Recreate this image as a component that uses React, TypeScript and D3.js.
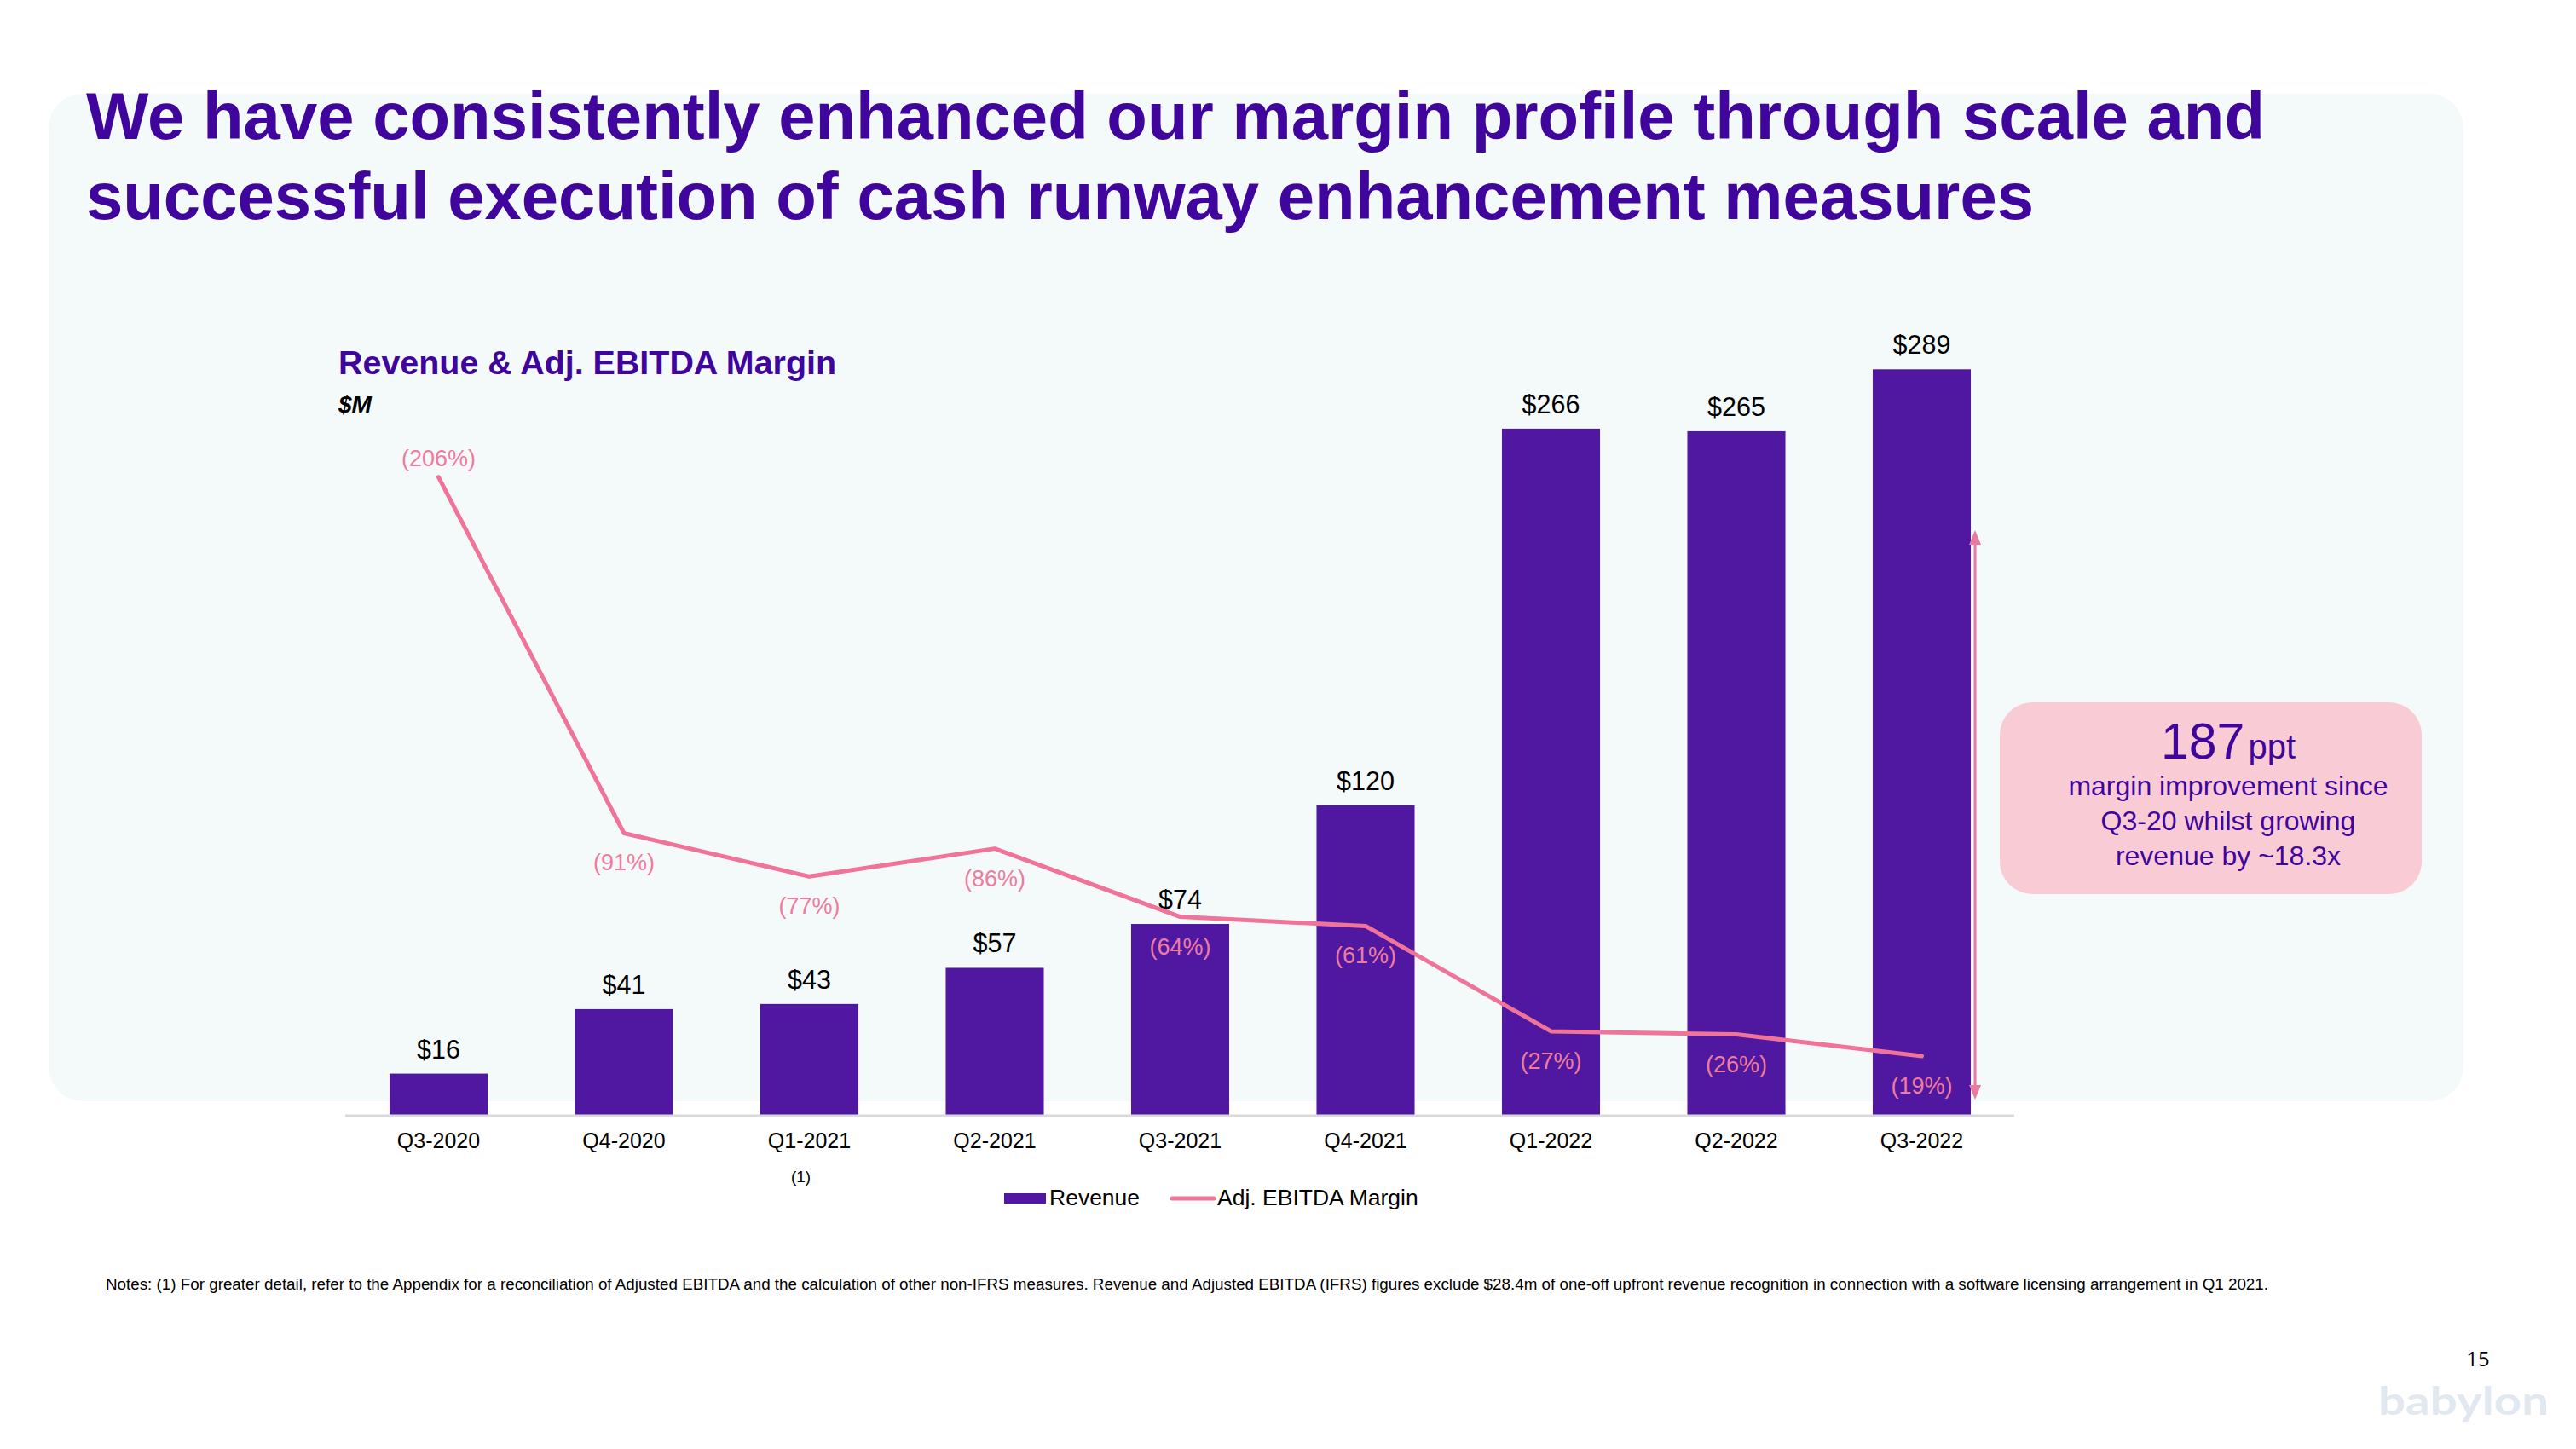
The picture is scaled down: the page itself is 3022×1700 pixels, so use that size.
import React from 'react';
import * as d3 from 'd3';

const categories = ['Q3-2020', 'Q4-2020', 'Q1-2021', 'Q2-2021', 'Q3-2021', 'Q4-2021', 'Q1-2022', 'Q2-2022', 'Q3-2022'];
const revenue = [16, 41, 43, 57, 74, 120, 266, 265, 289];
const margin = [206, 91, 77, 86, 64, 61, 27, 26, 19];
const footnoteCategory = 'Q1-2021';

const titleLines = [
  'We have consistently enhanced our margin profile through scale and',
  'successful execution of cash runway enhancement measures',
];
const chartTitle = 'Revenue & Adj. EBITDA Margin';
const unitLabel = '$M';
const legendItems = ['Revenue', 'Adj. EBITDA Margin'];
const calloutBig = '187';
const calloutUnit = 'ppt';
const calloutLines = ['margin improvement since', 'Q3-20 whilst growing', 'revenue by ~18.3x'];
const notes =
  'Notes: (1) For greater detail, refer to the Appendix for a reconciliation of Adjusted EBITDA and the calculation of other non-IFRS measures. Revenue and Adjusted EBITDA (IFRS) figures exclude $28.4m of one-off upfront revenue recognition in connection with a software licensing arrangement in Q1 2021.';

const PURPLE = '#40059c';
const BAR = '#5018a0';
const PINK = '#f0739a';
const PINK_TXT = '#ef7c9d';
const FONT = '"Liberation Sans", Arial, sans-serif';

export default function App() {
  const W = 3022;
  const H = 1700;
  const baseY = 1308;
  const topY = 400;

  const x = d3
    .scaleBand<string>()
    .domain(categories)
    .range([405.75, 2363.25])
    .paddingInner(0.471)
    .paddingOuter(0.2355);
  const yBar = d3.scaleLinear().domain([0, 300]).range([baseY, topY]);
  const yLine = d3.scaleLinear().domain([0, 250]).range([baseY, topY]);
  const bw = x.bandwidth();
  const cx = (c: string) => (x(c) as number) + bw / 2;

  const lineGen = d3
    .line<number>()
    .x((_, i) => cx(categories[i]))
    .y((d) => yLine(d));

  const lastC = categories[categories.length - 1];
  const arrowX = (x(lastC) as number) + bw + 5;
  const arrowTop = 622;
  const arrowBot = 1290;

  return (
    <svg
      width={W}
      height={H}
      viewBox={`0 0 ${W} ${H}`}
      style={{ position: 'absolute', left: 0, top: 0, display: 'block', background: '#ffffff' }}
      fontFamily={FONT}
    >
      <rect x={0} y={0} width={W} height={H} fill="#ffffff" />
      {/* panel */}
      <rect x={57} y={110} width={2833} height={1182} rx={40} ry={40} fill="#f4fafa" />

      {/* title */}
      {titleLines.map((t, i) => (
        <text
          key={i}
          x={101}
          y={163 + i * 94}
          fontSize={78}
          fontWeight="bold"
          fill={PURPLE}
          textLength={i === 0 ? 2556 : 2285}
          lengthAdjust="spacingAndGlyphs"
        >
          {t}
        </text>
      ))}

      {/* chart title */}
      <text x={397} y={439} fontSize={38} fontWeight="bold" fill={PURPLE} textLength={584} lengthAdjust="spacingAndGlyphs">
        {chartTitle}
      </text>
      <text x={397} y={484} fontSize={28} fontWeight="bold" fontStyle="italic" fill="#000">
        {unitLabel}
      </text>

      {/* bars */}
      {categories.map((c, i) => (
        <rect key={c} x={x(c)} y={yBar(revenue[i])} width={bw} height={baseY - yBar(revenue[i])} fill={BAR} />
      ))}

      {/* axis line */}
      <line x1={405} x2={2363} y1={baseY + 1} y2={baseY + 1} stroke="#d9d9d9" strokeWidth={3} />

      {/* revenue labels */}
      {categories.map((c, i) => (
        <text key={c} x={cx(c)} y={yBar(revenue[i]) - 18} fontSize={30.5} textAnchor="middle" fill="#000">
          {`$${revenue[i]}`}
        </text>
      ))}

      {/* margin line */}
      <path d={lineGen(margin) || ''} fill="none" stroke={PINK} strokeWidth={5} strokeLinejoin="round" strokeLinecap="round" />

      {/* margin labels */}
      {categories.map((c, i) => (
        <text
          key={c}
          x={cx(c)}
          y={i === 0 ? yLine(margin[i]) - 13 : yLine(margin[i]) + 44}
          fontSize={27}
          textAnchor="middle"
          fill={PINK_TXT}
        >
          {`(${margin[i]}%)`}
        </text>
      ))}

      {/* axis tick labels */}
      {categories.map((c) => (
        <text key={c} x={cx(c)} y={1347} fontSize={25} textAnchor="middle" fill="#000">
          {c}
        </text>
      ))}
      <text x={cx(footnoteCategory) - 10} y={1387} fontSize={19} textAnchor="middle" fill="#000">
        (1)
      </text>

      {/* legend */}
      <rect x={1178} y={1400} width={49} height={12} fill={BAR} />
      <text x={1231} y={1414} fontSize={26.5} fill="#000">
        {legendItems[0]}
      </text>
      <line x1={1375} x2={1424} y1={1406} y2={1406} stroke={PINK} strokeWidth={5} strokeLinecap="round" />
      <text x={1428} y={1414} fontSize={26.5} fill="#000">
        {legendItems[1]}
      </text>

      {/* arrow */}
      <line x1={arrowX} x2={arrowX} y1={arrowTop + 15} y2={arrowBot - 15} stroke="#e8799f" strokeWidth={3} />
      <polygon
        points={`${arrowX},${arrowTop} ${arrowX - 7},${arrowTop + 17} ${arrowX + 7},${arrowTop + 17}`}
        fill="#e8799f"
      />
      <polygon
        points={`${arrowX},${arrowBot} ${arrowX - 7},${arrowBot - 17} ${arrowX + 7},${arrowBot - 17}`}
        fill="#e8799f"
      />

      {/* callout */}
      <rect x={2346} y={824} width={495} height={225} rx={38} ry={38} fill="#f9cbd4" />
      <text x={2614} y={890} textAnchor="middle" fill={PURPLE}>
        <tspan fontSize={59}>{calloutBig}</tspan>
        <tspan fontSize={40} dx={4}>
          {calloutUnit}
        </tspan>
      </text>
      {calloutLines.map((t, i) => (
        <text key={i} x={2614} y={933 + i * 41} fontSize={32} textAnchor="middle" fill={PURPLE}>
          {t}
        </text>
      ))}

      {/* notes */}
      <text x={124} y={1513} fontSize={18} fill="#000" textLength={2537} lengthAdjust="spacingAndGlyphs">
        {notes}
      </text>

      {/* page number + logo */}
      <text x={2907} y={1603} fontSize={24} textAnchor="middle" fill="#000" fontFamily='"Open Sans", sans-serif'>
        15
      </text>
      <text
        x={2790}
        y={1660}
        fontSize={46}
        fill="#e2e8ef"
        fontFamily="Lato, sans-serif"
        fontWeight="bold"
        textLength={200}
        lengthAdjust="spacingAndGlyphs"
      >
        babylon
      </text>
    </svg>
  );
}
